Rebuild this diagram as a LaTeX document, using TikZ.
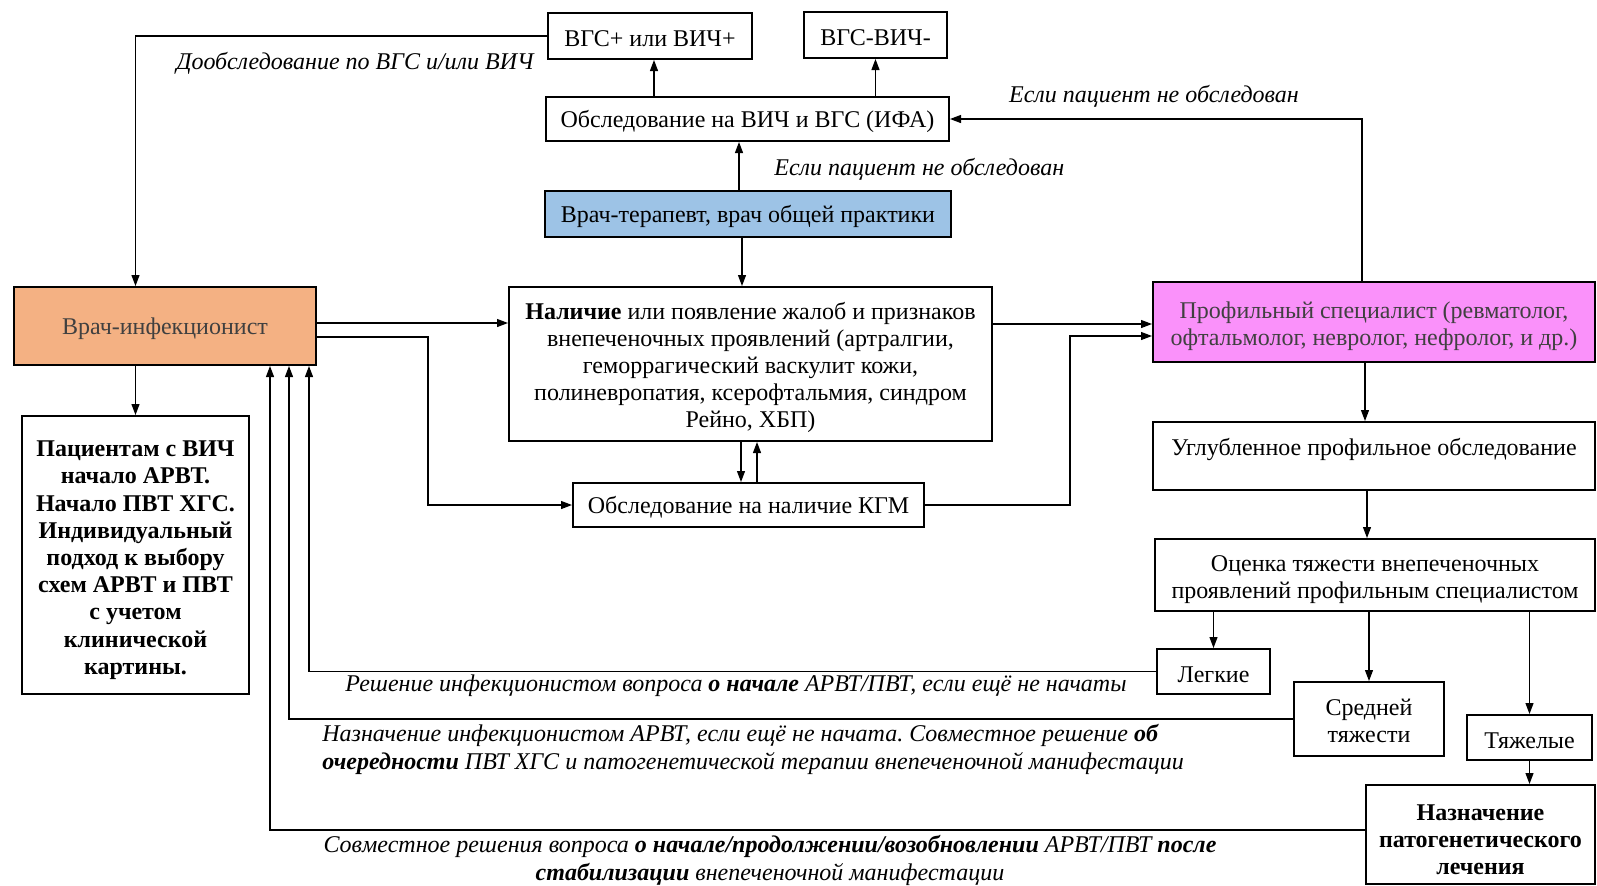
\documentclass[tikz,border=0pt]{standalone}
\usepackage{fontspec}
\setmainfont{Liberation Serif}
\usetikzlibrary{arrows.meta}
\definecolor{terblue}{RGB}{157,195,230}
\definecolor{inforange}{RGB}{244,177,131}
\definecolor{profpink}{RGB}{250,145,250}
\frenchspacing

\begin{document}
\begin{tikzpicture}[x=0.5pt,y=-0.5pt,
   >={Triangle[length=5.5pt,width=4pt]},
   font=\fontsize{12}{13.5}\selectfont,
   box/.style={draw=black,line width=1pt,align=center,inner sep=2pt,
      execute at begin node=\rule{0pt}{11pt}},
   conn/.style={line width=0.6pt,->},
   lbl/.style={font=\fontsize{12}{14}\selectfont\itshape,inner sep=0pt}]
   \useasboundingbox (0,0) rectangle (1597,885);

   \node[box,minimum width=102pt,minimum height=23pt] (vgsp) at (650,36) {ВГС+ или ВИЧ+};
   \node[box,minimum width=71.5pt,minimum height=23pt] (vgsm) at (875.5,35) {ВГС-ВИЧ-};
   \node[box,minimum width=201.5pt,minimum height=22pt] (ifa) at (747.5,119) {Обследование на ВИЧ и ВГС (ИФА)};
   \node[box,fill=terblue,minimum width=203pt,minimum height=23pt] (ter) at (748,214) {Врач-терапевт, врач общей практики};
   \node[box,minimum width=241.5pt,minimum height=77pt] (nal) at (750.5,364)
      {\rule{0pt}{12.5pt}\textbf{Наличие} или появление жалоб и признаков\\ внепеченочных проявлений (артралгии,\\ геморрагический васкулит кожи,\\ полиневропатия, ксерофтальмия, синдром\\ Рейно, ХБП)};
   \node[box,minimum width=175.5pt,minimum height=22pt] (kgm) at (748.5,505) {Обследование на наличие КГМ};
   \node[box,fill=inforange,text=black!75,minimum width=151pt,minimum height=39pt] (inf) at (165,326) {Врач-инфекционист};
   \node[box,font=\fontsize{12}{13.6}\selectfont\bfseries,minimum width=113.5pt,minimum height=139pt] (pac) at (135.5,555)
      {\rule{0pt}{13pt}Пациентам с ВИЧ\\ начало АРВТ.\\ Начало ПВТ ХГС.\\ Индивидуальный\\ подход к выбору\\ схем АРВТ и ПВТ\\ с учетом\\ клинической\\ картины.};
   \node[box,fill=profpink,text=black!75,minimum width=221pt,minimum height=40pt] (prof) at (1374,322)
      {\rule{0pt}{12.5pt}Профильный специалист (ревматолог,\\ офтальмолог, невролог, нефролог, и др.)};
   \node[box,text depth=12pt,minimum width=221pt,minimum height=34pt] (ugl) at (1374,456) {Углубленное профильное обследование};
   \node[box,minimum width=220pt,minimum height=36pt] (ocen) at (1375,575)
      {\rule{0pt}{13pt}Оценка тяжести внепеченочных\\ проявлений профильным специалистом};
   \node[box,minimum width=56.5pt,minimum height=22.5pt] (leg) at (1213.5,671.5) {Легкие};
   \node[box,minimum width=75pt,minimum height=37pt] (sred) at (1369,719) {\rule{0pt}{10.5pt}Средней\\ тяжести};
   \node[box,minimum width=62.5pt,minimum height=22.5pt] (tyazh) at (1529.5,737.5) {Тяжелые};
   \node[box,font=\fontsize{12}{13.6}\selectfont\bfseries,minimum width=114.5pt,minimum height=49.5pt] (nazn) at (1480.5,834.5)
      {\rule{0pt}{13pt}Назначение\\ патогенетического\\ лечения};

   \node[lbl] (ldoob) at (355,63) {Дообследование по ВГС и/или ВИЧ};
   \node[lbl,anchor=west] (lter) at (774,169) {Если пациент не обследован};
   \node[lbl] (lprof) at (1154,96) {Если пациент не обследован};
   \node[lbl] (lleg) at (736,686) {Решение инфекционистом вопроса \textbf{о начале} АРВТ/ПВТ, если ещё не начаты};
   \node[lbl,align=left,anchor=west] (lsred) at (322,749)
      {Назначение инфекционистом АРВТ, если ещё не начата. Совместное решение \textbf{об}\\ \textbf{очередности} ПВТ ХГС и патогенетической терапии внепеченочной манифестации};
   \node[lbl,align=center] (lnazn) at (770,860)
      {Совместное решения вопроса \textbf{о начале/продолжении/возобновлении} АРВТ/ПВТ \textbf{после}\\ \textbf{стабилизации} внепеченочной манифестации};

   \draw[conn] (vgsp.west) -| (inf.north -| pac.north);
   \draw[conn] (inf.south -| pac.north) -- (pac.north);
   \draw[conn] (ifa.north -| 654,0) -- (vgsp.south -| 654,0);
   \draw[conn] (ifa.north -| vgsm.south) -- (vgsm.south);
   \draw[conn] (ter.north -| 739,0) -- (ifa.south -| 739,0);
   \draw[conn] (ter.south -| 742,0) -- (nal.north -| 742,0);
   \draw[conn] (prof.north -| 1362,0) |- (ifa.east);
   \draw[conn] (inf.east |- 0,323) -- (nal.west |- 0,323);
   \draw[conn] (inf.east |- 0,337) -- (428,337) |- (kgm.west);
   \draw[conn] (nal.south -| 741,0) -- (kgm.north -| 741,0);
   \draw[conn] (kgm.north -| 757,0) -- (nal.south -| 757,0);
   \draw[conn] (nal.east |- 0,324) -- (prof.west |- 0,324);
   \draw[conn] (kgm.east) -| (1070,336) -- (prof.west |- 0,336);
   \draw[conn] (prof.south -| 1365,0) -- (ugl.north -| 1365,0);
   \draw[conn] (ugl.south -| 1367,0) -- (ocen.north -| 1367,0);
   \draw[conn] (ocen.south -| leg.north) -- (leg.north);
   \draw[conn] (ocen.south -| sred.north) -- (sred.north);
   \draw[conn] (ocen.south -| tyazh.north) -- (tyazh.north);
   \draw[conn] (tyazh.south) -- (tyazh.south |- nazn.north);
   \draw[conn] (leg.west) -| (inf.south -| 309,0);
   \draw[conn] (sred.west) -| (inf.south -| 289,0);
   \draw[conn] (nazn.west |- 0,830) -| (inf.south -| 270,0);
  \end{tikzpicture}
\end{document}
